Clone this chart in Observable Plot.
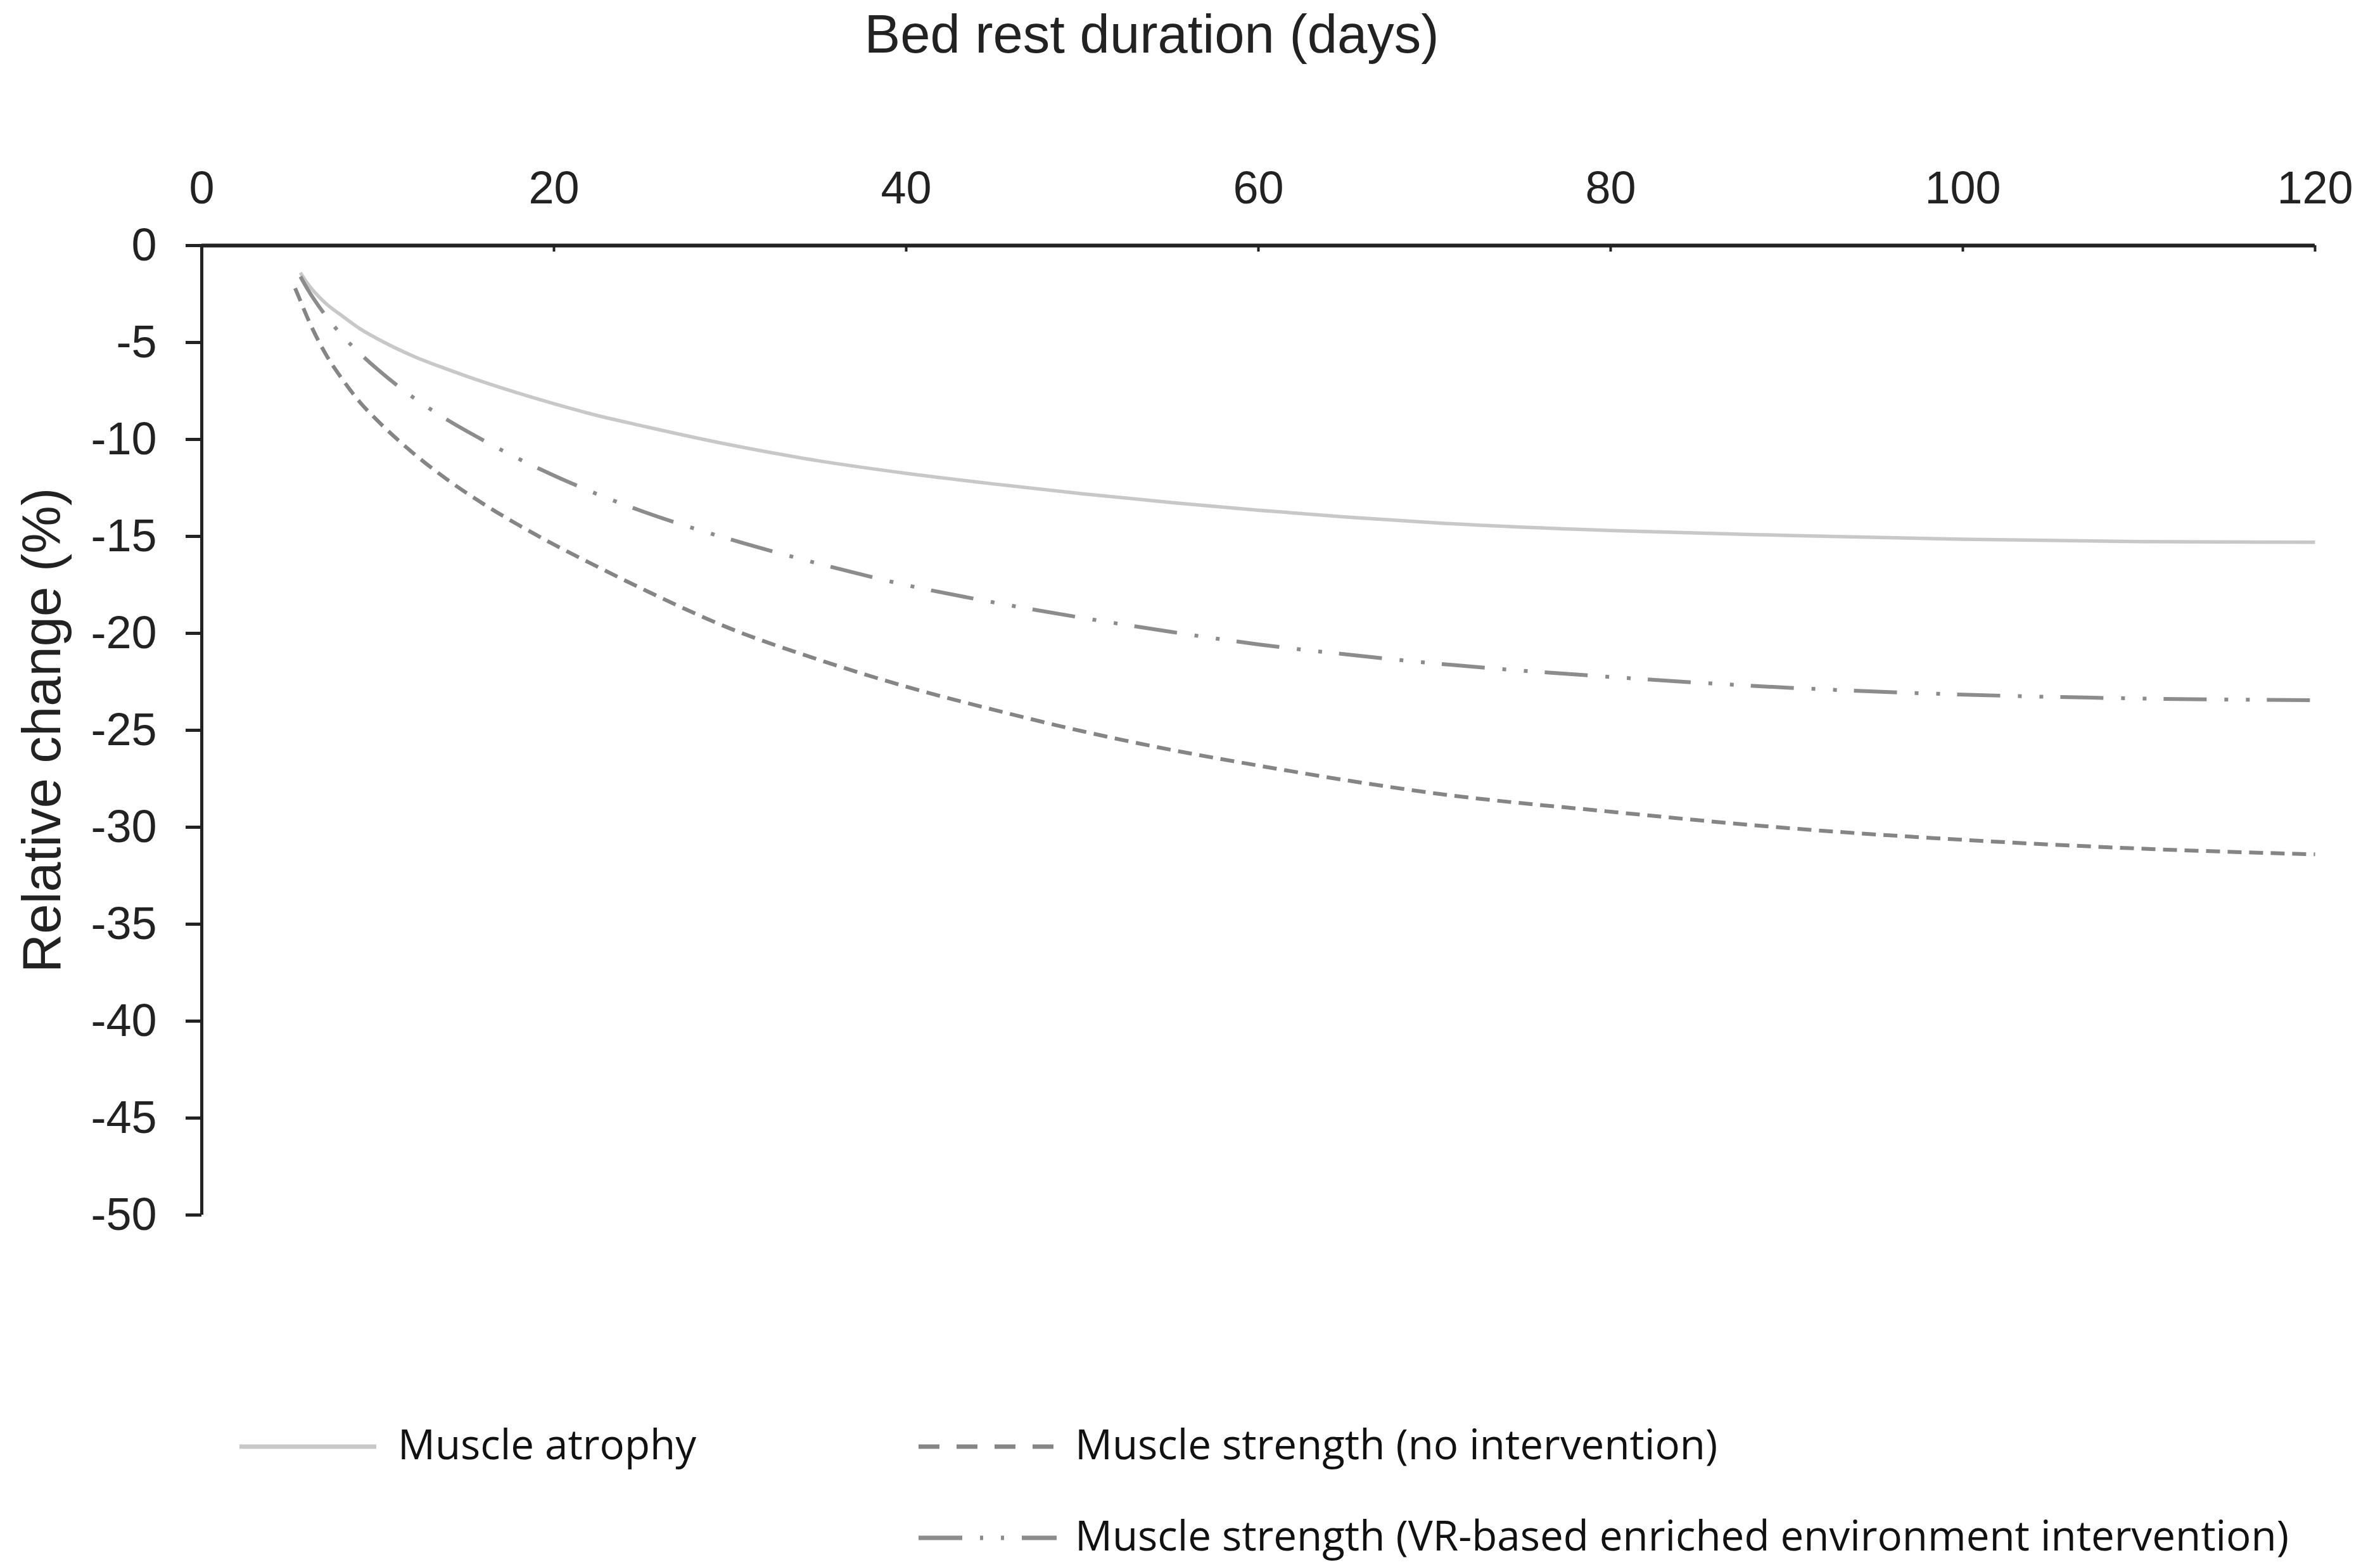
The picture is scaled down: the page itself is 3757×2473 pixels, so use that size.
<!DOCTYPE html>
<html>
<head>
<meta charset="utf-8">
<script src="https://cdn.jsdelivr.net/npm/d3@7"></script>
<script src="https://cdn.jsdelivr.net/npm/@observablehq/plot@0.6"></script>
<style>
  html, body { margin: 0; padding: 0; background: #fff; }
  #wrap { position: relative; width: 3757px; height: 2473px; overflow: hidden; background: #fff; }
  #title { height: 107px; line-height: 107px; font-family: "Liberation Sans", Arial, sans-serif; font-size: 85px; color: #222; text-align: center; padding-right: 121px; white-space: nowrap; }
  #chart svg { display: block; }
  #legend { position: relative; height: 466px; font-family: "Open Sans", sans-serif; font-size: 65.5px; color: #111; }
  .sw { position: absolute; display: block; }
  .lt { position: absolute; line-height: 80px; white-space: nowrap; }
</style>
</head>
<body>
<div id="wrap">
  <div id="title"></div>
  <div id="chart"></div>
  <div id="legend"></div>
</div>
<script>
// ---- data ----
const xLabel = "Bed rest duration (days)";
const yLabel = "Relative change (%)";
const xTicks = [0, 20, 40, 60, 80, 100, 120];
const yTicks = [0, -5, -10, -15, -20, -25, -30, -35, -40, -45, -50];

const days = [5.3, 5.6, 6, 7, 8, 9, 10, 12, 14, 16, 18, 20, 22, 25, 30, 35, 40, 45, 50, 55, 60, 65, 70, 80, 90, 100, 110, 120];
const muscleAtrophy = [null, -1.4, -1.95, -2.95, -3.65, -4.3, -4.82, -5.7, -6.4, -7.04, -7.62, -8.16, -8.66, -9.3, -10.28, -11.1, -11.75, -12.3, -12.8, -13.25, -13.65, -14.0, -14.3, -14.7, -14.95, -15.15, -15.27, -15.3];
const strengthNoIntervention = [-2.2, -2.85, -3.72, -5.54, -6.92, -8.1, -9.05, -10.7, -12.11, -13.33, -14.42, -15.42, -16.35, -17.7, -19.75, -21.35, -22.75, -23.95, -25.05, -26.0, -26.82, -27.58, -28.25, -29.2, -30.04, -30.65, -31.1, -31.4];
const strengthVR = [null, -1.6, -2.24, -3.57, -4.67, -5.58, -6.4, -7.83, -9.02, -10.05, -11.0, -11.86, -12.65, -13.7, -15.15, -16.4, -17.51, -18.41, -19.2, -19.92, -20.57, -21.09, -21.55, -22.25, -22.8, -23.16, -23.36, -23.45];

const seriesNames = ["Muscle atrophy", "Muscle strength (no intervention)", "Muscle strength (VR-based enriched environment intervention)"];
const seriesValues = [muscleAtrophy, strengthNoIntervention, strengthVR];
const seriesColors = ["#c8c8c8", "#858585", "#8c8c8c"];
const seriesDash = [null, "22,12", "68,28,6,28,6,27"];
const legendDash = [null, "33,27", "69,28,5,28,5,28"];

// ---- layout ----
const W = 3757, H = 1900;
const mTop = 280, mLeft = 318, mRight = 103, mBottom = 90;
const pxPerUnit = (H - mTop - mBottom) / 50;

document.getElementById("title").textContent = xLabel;

const lineMarks = seriesNames.map((name, s) => {
  const rows = days.map((d, i) => ({day: d, value: seriesValues[s][i], series: name}));
  return Plot.line(rows, {
    x: "day", y: "value",
    stroke: seriesColors[s],
    strokeWidth: s === 0 ? 5.5 : 6,
    strokeDasharray: seriesDash[s],
    strokeLinecap: "butt",
    curve: "monotone-x"
  });
});

const chart = Plot.plot({
  width: W, height: H,
  marginTop: mTop, marginLeft: mLeft, marginRight: mRight, marginBottom: mBottom,
  style: {fontFamily: '"Liberation Sans", Arial, sans-serif', fontSize: "72px", color: "#222", background: "#fff", overflow: "visible"},
  x: {domain: [0, 120]},
  y: {domain: [-50, 0]},
  marks: [
    Plot.axisX({anchor: "top", ticks: xTicks, tickSize: 0, tickPadding: 67, tickFormat: d => String(d), label: null, fontSize: 72}),
    Plot.axisY({anchor: "left", ticks: yTicks, tickSize: 25, tickPadding: 46, strokeWidth: 5, tickFormat: d => String(d), label: null, fontSize: 72}),
    Plot.axisY({anchor: "left", ticks: [], tickSize: 0, tickFormat: null, label: yLabel, labelAnchor: "center", labelOffset: 284, labelArrow: "none", fontSize: 85}),
    ...lineMarks,
    Plot.ruleX(xTicks.filter(t => t > 0), {x: d => d, y1: 0, y2: -10 / pxPerUnit, stroke: "#222", strokeWidth: 4}),
    Plot.ruleY([0], {stroke: "#222", strokeWidth: 6}),
    Plot.ruleX([0], {stroke: "#222", strokeWidth: 5})
  ]
});
document.getElementById("chart").appendChild(chart);

// ---- legend (HTML below the SVG) ----
const legendPos = [
  {sx: 378, sw: 216, tx: 628, row: 0},
  {sx: 1450, sw: 218, tx: 1697, row: 0},
  {sx: 1450, sw: 218, tx: 1697, row: 1}
];
const legend = document.getElementById("legend");
seriesNames.forEach((name, s) => {
  const p = legendPos[s];
  const top = 231 + p.row * 144;
  const svgNS = "http://www.w3.org/2000/svg";
  const sv = document.createElementNS(svgNS, "svg");
  sv.setAttribute("class", "sw");
  sv.setAttribute("width", p.sw);
  sv.setAttribute("height", 20);
  sv.style.left = p.sx + "px";
  sv.style.top = (top + 35) + "px";
  const ln = document.createElementNS(svgNS, "line");
  ln.setAttribute("x1", 0); ln.setAttribute("x2", p.sw);
  ln.setAttribute("y1", 10); ln.setAttribute("y2", 10);
  ln.setAttribute("stroke", seriesColors[s]);
  ln.setAttribute("stroke-width", 7);
  if (legendDash[s]) ln.setAttribute("stroke-dasharray", legendDash[s]);
  sv.appendChild(ln);
  legend.appendChild(sv);
  const t = document.createElement("div");
  t.className = "lt";
  t.style.left = p.tx + "px";
  t.style.top = top + "px";
  t.textContent = name;
  legend.appendChild(t);
});
</script>
</body>
</html>
